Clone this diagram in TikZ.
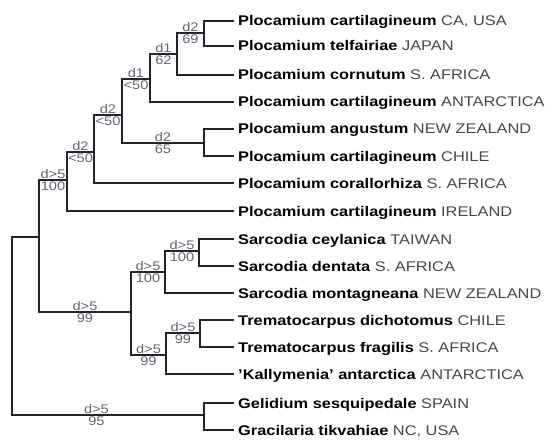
\documentclass[tikz,border=0pt]{standalone}
\usepackage{fontspec}
\setmainfont{Liberation Sans}[FakeStretch=1.17]
\usepackage{xcolor}
\usepackage{tikz}
\usetikzlibrary{positioning}
\definecolor{branchgray}{RGB}{35,35,45}
\definecolor{labelgray}{RGB}{100,100,110}
\definecolor{placegray}{RGB}{70,70,75}
\newcommand{\taxname}[2]{\textbf{#1} {\color{placegray}#2}}

\begin{document}
\begin{tikzpicture}[
    x=1pt, y=-1pt,
    branch/.style={line width=1.6pt, branchgray},
    taxon/.style={anchor=west, inner xsep=4pt, inner ysep=0pt, text height=10pt,
                  text depth=0pt, font=\fontsize{14}{16}\selectfont},
    supp/.style={font=\fontsize{12.5}{13}\selectfont, text=labelgray, inner sep=1pt},
]
    \useasboundingbox (0,0) rectangle (549,441);

    % taxa
    \node[taxon] (pcusa)  at (234,21)  {\taxname{Plocamium cartilagineum}{CA, USA}};
    \node[taxon] (ptel)   at (234,46)  {\taxname{Plocamium telfairiae}{JAPAN}};
    \node[taxon] (pcor)   at (234,75)  {\taxname{Plocamium cornutum}{S. AFRICA}};
    \node[taxon] (pcant)  at (234,102) {\taxname{Plocamium cartilagineum}{ANTARCTICA}};
    \node[taxon] (pang)   at (234,129) {\taxname{Plocamium angustum}{NEW ZEALAND}};
    \node[taxon] (pchile) at (234,156) {\taxname{Plocamium cartilagineum}{CHILE}};
    \node[taxon] (pcoral) at (234,183) {\taxname{Plocamium corallorhiza}{S. AFRICA}};
    \node[taxon] (pire)   at (234,211) {\taxname{Plocamium cartilagineum}{IRELAND}};
    \node[taxon] (sceyl)  at (234,239) {\taxname{Sarcodia ceylanica}{TAIWAN}};
    \node[taxon] (sdent)  at (234,266) {\taxname{Sarcodia dentata}{S. AFRICA}};
    \node[taxon] (smont)  at (234,293) {\taxname{Sarcodia montagneana}{NEW ZEALAND}};
    \node[taxon] (tdich)  at (234,320) {\taxname{Trematocarpus dichotomus}{CHILE}};
    \node[taxon] (tfrag)  at (234,347) {\taxname{Trematocarpus fragilis}{S. AFRICA}};
    \node[taxon] (kall)   at (234,374) {\taxname{'Kallymenia' antarctica}{ANTARCTICA}};
    \node[taxon] (geli)   at (234,403) {\taxname{Gelidium sesquipedale}{SPAIN}};
    \node[taxon] (grac)   at (234,430) {\taxname{Gracilaria tikvahiae}{NC, USA}};

    % internal nodes
    \coordinate (a12)   at (204,33);
    \coordinate (a123)  at (177,54);
    \coordinate (a1234) at (150,79);
    \coordinate (a56)   at (204,143);
    \coordinate (a1to6) at (122,115);
    \coordinate (a1to7) at (94,152);
    \coordinate (ploc)  at (67,180);
    \coordinate (s910)  at (199,251);
    \coordinate (s911)  at (165,272);
    \coordinate (t1213) at (200,333);
    \coordinate (t1214) at (166,355);
    \coordinate (st)    at (131,312);
    \coordinate (ps)    at (39,237);
    \coordinate (gg)    at (204,415);
    \coordinate (root)  at (12,326);

    % Plocamium clade
    \draw[branch] (a12) |- (pcusa.west);
    \draw[branch] (a12) |- (ptel.west);
    \draw[branch] (a123) |- node[pos=0.75, above, supp] {d2} node[pos=0.75, below, supp] {69} (a12);
    \draw[branch] (a123) |- (pcor.west);
    \draw[branch] (a1234) |- node[pos=0.75, above, supp] {d1} node[pos=0.75, below, supp] {62} (a123);
    \draw[branch] (a1234) |- (pcant.west);
    \draw[branch] (a56) |- (pang.west);
    \draw[branch] (a56) |- (pchile.west);
    \draw[branch] (a1to6) |- node[pos=0.75, above, supp] {d1} node[pos=0.75, below, supp] {<50} (a1234);
    \draw[branch] (a1to6) |- node[pos=0.75, above, supp] {d2} node[pos=0.75, below, supp] {65} (a56);
    \draw[branch] (a1to7) |- node[pos=0.75, above, supp] {d2} node[pos=0.75, below, supp] {<50} (a1to6);
    \draw[branch] (a1to7) |- (pcoral.west);
    \draw[branch] (ploc) |- node[pos=0.75, above, supp] {d2} node[pos=0.75, below, supp] {<50} (a1to7);
    \draw[branch] (ploc) |- (pire.west);

    % Sarcodia / Trematocarpus clade
    \draw[branch] (s910) |- (sceyl.west);
    \draw[branch] (s910) |- (sdent.west);
    \draw[branch] (s911) |- node[pos=0.75, above, supp] {d>5} node[pos=0.75, below, supp] {100} (s910);
    \draw[branch] (s911) |- (smont.west);
    \draw[branch] (t1213) |- (tdich.west);
    \draw[branch] (t1213) |- (tfrag.west);
    \draw[branch] (t1214) |- node[pos=0.75, above, supp] {d>5} node[pos=0.75, below, supp] {99} (t1213);
    \draw[branch] (t1214) |- (kall.west);
    \draw[branch] (st) |- node[pos=0.75, above, supp] {d>5} node[pos=0.75, below, supp] {100} (s911);
    \draw[branch] (st) |- node[pos=0.75, above, supp] {d>5} node[pos=0.75, below, supp] {99} (t1214);

    % base of the tree
    \draw[branch] (ps) |- node[pos=0.75, above, supp] {d>5} node[pos=0.75, below, supp] {100} (ploc);
    \draw[branch] (ps) |- node[pos=0.75, above, supp] {d>5} node[pos=0.75, below, supp] {99} (st);
    \draw[branch] (gg) |- (geli.west);
    \draw[branch] (gg) |- (grac.west);
    \draw[branch] (root) |- (ps);
    \draw[branch] (root) |- node[pos=0.72, above, supp] {d>5} node[pos=0.72, below, supp] {95} (gg);
\end{tikzpicture}
\end{document}
